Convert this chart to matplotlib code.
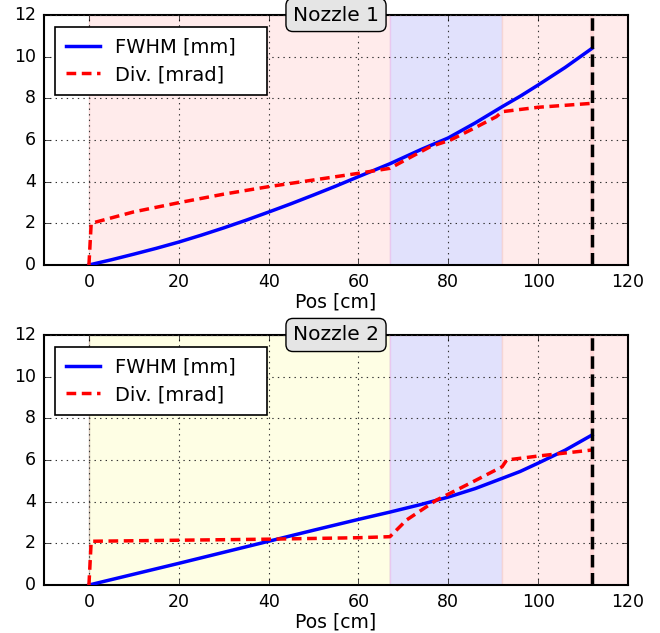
import matplotlib
matplotlib.use("Agg")
import matplotlib.pyplot as plt

plt.style.use('classic')

# nozzle 1
pos1_fwhm = [0, 5, 10, 15, 20, 25, 30, 35, 40, 45, 50, 55, 60, 67, 74, 80, 86, 92, 96, 100, 106, 112]
fwhm1 = [0, 0.25, 0.52, 0.8, 1.1, 1.43, 1.78, 2.15, 2.54, 2.94, 3.36, 3.79, 4.24, 4.86, 5.55, 6.1,
         6.82, 7.6, 8.1, 8.64, 9.48, 10.4]
pos1_div = [0, 0.5, 10, 20, 30, 40, 50, 60, 67, 70.7, 76, 80.5, 85.7, 90.7, 92, 100, 112]
div1 = [0, 2.0, 2.55, 2.99, 3.4, 3.76, 4.08, 4.4, 4.64, 5.07, 5.68, 6.0, 6.56, 7.12, 7.36, 7.57, 7.76]

# nozzle 2
pos2_fwhm = [0, 10, 20, 30, 40, 50, 60, 67, 74, 80, 86, 92, 96, 100, 106, 112]
fwhm2 = [0, 0.52, 1.04, 1.57, 2.1, 2.63, 3.15, 3.5, 3.87, 4.22, 4.63, 5.12, 5.45, 5.85, 6.47, 7.2]
pos2_div = [0, 0.5, 20, 40, 60, 67, 70.7, 77.4, 84.8, 92, 93, 100, 112]
div2 = [0, 2.1, 2.15, 2.2, 2.27, 2.32, 3.12, 4.08, 4.88, 5.68, 6.0, 6.19, 6.48]

# sections: (start, end, colour)
sections1 = [(0, 67, '#ffebeb'), (67, 92, '#e1e1fc'), (92, 120, '#ffebeb')]
sections2 = [(0, 67, '#fefee4'), (67, 92, '#e1e1fc'), (92, 120, '#ffebeb')]
edge_colors = ['#f5d5d5', '#e8c8f0', '#f5d5d5']
edge_colors2 = ['#d0c0b0', '#e8c8f0', '#f5d5d5']
end_pos = 112

fig = plt.figure(figsize=(6.6, 6.33), dpi=100, facecolor='white')
ax1 = fig.add_axes([0.0667, 0.5814, 0.8848, 0.3949])
ax2 = fig.add_axes([0.0667, 0.0758, 0.8848, 0.3950])

def draw(ax, secs, edges, px, fw, pd, dv, name):
    for (a, b, c), e in zip(secs, edges):
        ax.axvspan(a, b, facecolor=c, edgecolor=e, linewidth=1, zorder=0)
    ax.axvline(end_pos, color='#ffd8d8', linewidth=3, zorder=1)
    ax.plot(px, fw, 'b-', linewidth=2.5, label='FWHM [mm]', zorder=3)
    ax.plot(pd, dv, 'r--', linewidth=2.5, dashes=(7, 4), label='Div. [mrad]', zorder=3)
    ax.axvline(end_pos, color='k', linestyle='--', linewidth=2.5, dashes=(9, 4), zorder=4)
    ax.set_xlim(-10, 120)
    ax.set_ylim(0, 12)
    ax.set_xlabel('Pos [cm]', fontsize=13.5, labelpad=1)
    ax.grid(True, color='#333333', linestyle=':', linewidth=0.8)
    ax.set_axisbelow(False)
    ax.tick_params(labelsize=12.5, pad=6)
    for s in ax.spines.values():
        s.set_linewidth(1.5)
    leg = ax.legend(loc='upper left', bbox_to_anchor=(0.0188, 0.953, 0.363, 0),
                    mode='expand', borderaxespad=0, fontsize=14, numpoints=1,
                    handlelength=1.75, borderpad=0.55, labelspacing=0.45,
                    handletextpad=0.8)
    leg.get_frame().set_linewidth(1.2)
    ax.text(0.5, 1.0, name, transform=ax.transAxes, ha='center', va='center',
            fontsize=14.5, zorder=10,
            bbox=dict(boxstyle='round,pad=0.35', facecolor='#e5e5e5', edgecolor='k'))

draw(ax1, sections1, edge_colors, pos1_fwhm, fwhm1, pos1_div, div1, 'Nozzle 1')
draw(ax2, sections2, edge_colors2, pos2_fwhm, fwhm2, pos2_div, div2, 'Nozzle 2')

fig.savefig('out.png', dpi=100, facecolor='white')
